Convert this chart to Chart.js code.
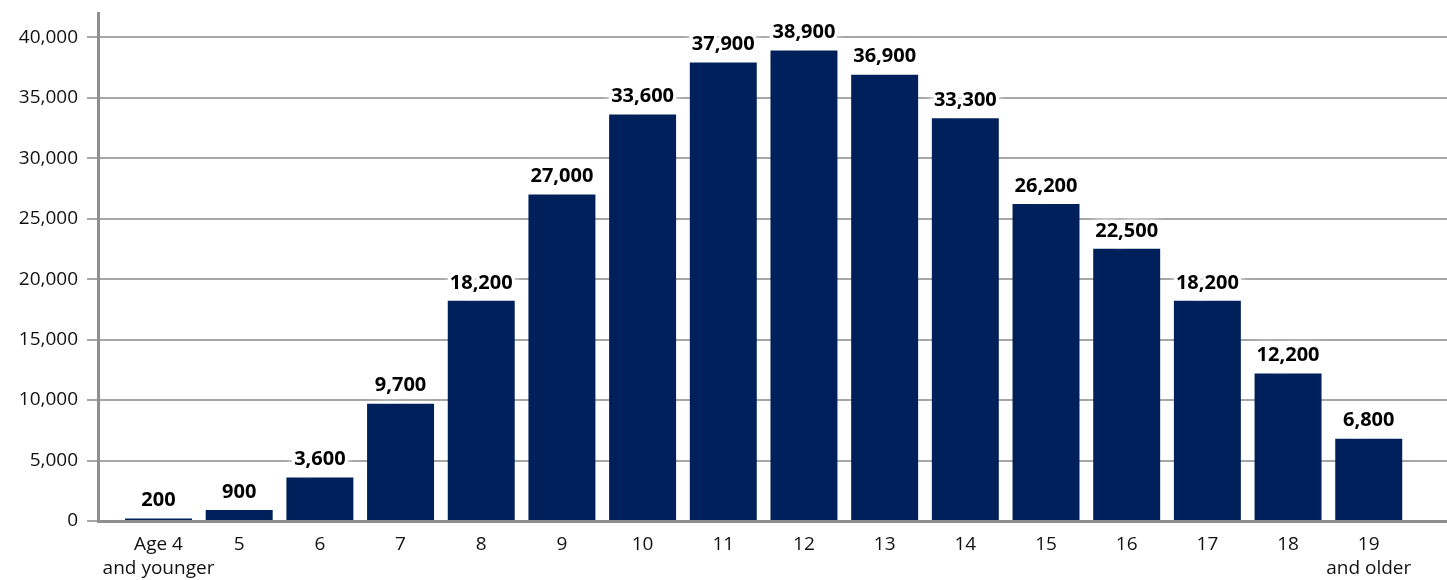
<!DOCTYPE html>
<html>
<head>
<meta charset="utf-8">
<script src="https://cdn.jsdelivr.net/npm/chart.js@4"></script>
<style>
  body { margin: 0; background: #fff; }
</style>
</head>
<body>
<canvas id="myChart" width="1447" height="580"></canvas>
<script>
const categorias = [['Age 4', 'and younger'], '5', '6', '7', '8', '9', '10', '11', '12', '13', '14', '15', '16', '17', '18', ['19', 'and older']];
const valores = [200, 900, 3600, 9700, 18200, 27000, 33600, 37900, 38900, 36900, 33300, 26200, 22500, 18200, 12200, 6800];
const ticksY = [0, 5000, 10000, 15000, 20000, 25000, 30000, 35000, 40000];

const fuente = "'Open Sans', sans-serif";

// etiquetas de valor encima de cada barra, con halo blanco
const etiquetas = {
  id: 'etiquetas',
  afterDatasetsDraw(chart) {
    const ctx = chart.ctx;
    const meta = chart.getDatasetMeta(0);
    ctx.save();
    ctx.font = 'bold 20px ' + fuente;
    ctx.textAlign = 'center';
    ctx.textBaseline = 'middle';
    meta.data.forEach((bar, i) => {
      const txt = valores[i].toLocaleString('en-US');
      const y = bar.y - 18;
      ctx.shadowColor = '#fff';
      ctx.shadowBlur = 8;
      ctx.strokeStyle = '#fff';
      ctx.lineWidth = 6;
      ctx.lineJoin = 'round';
      ctx.strokeText(txt, bar.x, y);
      ctx.shadowBlur = 0;
      ctx.fillStyle = '#000';
      ctx.fillText(txt, bar.x, y);
    });
    ctx.restore();
  }
};

const ctx = document.getElementById('myChart').getContext('2d');
const chart = new Chart(ctx, {
  type: 'bar',
  data: {
    datasets: [{
      data: valores.map((v, i) => ({ x: i, y: v })),
      backgroundColor: '#00205B',
      borderWidth: 0,
      barPercentage: 0.83,
      categoryPercentage: 1
    }]
  },
  options: {
    responsive: false,
    animation: false,
    layout: { padding: { top: 13, right: 0, left: 0, bottom: 0 } },
    plugins: {
      legend: { display: false },
      tooltip: { enabled: false }
    },
    scales: {
      x: {
        type: 'linear',
        offset: false,
        min: -0.75,
        max: 15.97,
        afterBuildTicks: s => { s.ticks = categorias.map((_, i) => ({ value: i })); },
        afterFit: s => { s.height = 59; s.paddingLeft = 0; s.paddingRight = 0; },
        grid: { display: false, drawTicks: false },
        border: { display: true, color: '#8f8f8f', width: 3 },
        ticks: {
          autoSkip: false,
          maxRotation: 0,
          padding: 11,
          color: '#111',
          font: { family: fuente, size: 19, lineHeight: 1.3 },
          callback: v => categorias[v]
        }
      },
      y: {
        min: 0,
        max: 42000,
        afterBuildTicks: s => { s.ticks = ticksY.map(v => ({ value: v })); },
        afterFit: s => { s.width = 98; s.paddingTop = 0; s.paddingBottom = 0; },
        grid: { color: '#a6a6a6', lineWidth: 2, tickLength: 11, tickColor: '#a6a6a6' },
        border: { display: true, color: '#8f8f8f', width: 3 },
        ticks: {
          padding: 9,
          color: '#111',
          font: { family: fuente, size: 19 },
          callback: v => v.toLocaleString('en-US')
        }
      }
    }
  },
  plugins: [etiquetas]
});
</script>
</body>
</html>
